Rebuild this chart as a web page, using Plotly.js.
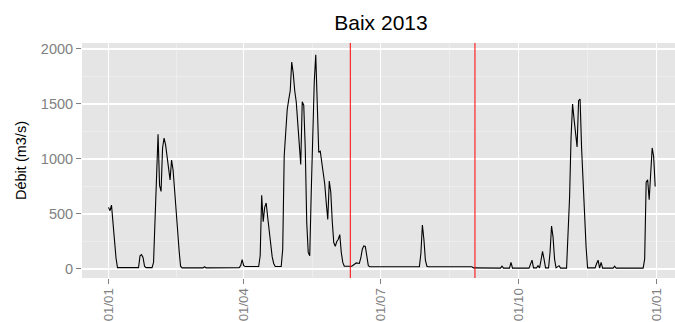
<!DOCTYPE html>
<html>
<head>
<meta charset="utf-8">
<script src="https://cdn.plot.ly/plotly-3.0.1.min.js"></script>
<style>html,body{margin:0;padding:0;background:#fff;}#chart{width:675px;height:322px;}</style>
</head>
<body>
<div id="chart"></div>
<script>
// Daily discharge readings (m3/s), Baix 2013
const dates = [
 '2013-01-01','2013-01-02','2013-01-03','2013-01-04','2013-01-05','2013-01-06','2013-01-07',
 '2013-01-21','2013-01-22','2013-01-23','2013-01-24','2013-01-25','2013-01-26',
 '2013-01-30','2013-01-31','2013-02-01','2013-02-02','2013-02-03','2013-02-04','2013-02-05',
 '2013-02-06','2013-02-07','2013-02-08','2013-02-09','2013-02-10','2013-02-11','2013-02-12',
 '2013-02-13','2013-02-14','2013-02-15','2013-02-16','2013-02-17','2013-02-18','2013-02-19',
 '2013-03-05','2013-03-06','2013-03-07',
 '2013-03-29','2013-03-30','2013-03-31','2013-04-01','2013-04-02',
 '2013-04-11','2013-04-12','2013-04-13','2013-04-14','2013-04-15','2013-04-16','2013-04-17',
 '2013-04-18','2013-04-19','2013-04-20','2013-04-21','2013-04-22',
 '2013-04-26','2013-04-27','2013-04-28','2013-04-29','2013-04-30','2013-05-01','2013-05-02',
 '2013-05-03','2013-05-04','2013-05-05','2013-05-06','2013-05-07','2013-05-08','2013-05-09',
 '2013-05-10','2013-05-11','2013-05-12','2013-05-13','2013-05-14','2013-05-15','2013-05-16',
 '2013-05-17','2013-05-18','2013-05-19','2013-05-20','2013-05-21','2013-05-22','2013-05-23',
 '2013-05-24','2013-05-25','2013-05-26','2013-05-27','2013-05-28','2013-05-29','2013-05-30',
 '2013-05-31','2013-06-01','2013-06-02','2013-06-03','2013-06-04','2013-06-05','2013-06-06',
 '2013-06-07','2013-06-11','2013-06-12','2013-06-14','2013-06-15','2013-06-17','2013-06-18',
 '2013-06-19','2013-06-20','2013-06-21','2013-06-22','2013-06-23','2013-06-24',
 '2013-07-27','2013-07-28','2013-07-29','2013-07-30','2013-07-31','2013-08-01','2013-08-02',
 '2013-08-31','2013-09-01',
 '2013-09-19','2013-09-20','2013-09-21','2013-09-25','2013-09-26','2013-09-27',
 '2013-10-08','2013-10-09','2013-10-10','2013-10-11','2013-10-13','2013-10-14','2013-10-15',
 '2013-10-16','2013-10-17','2013-10-18','2013-10-19','2013-10-21','2013-10-22','2013-10-23',
 '2013-10-24','2013-10-25','2013-10-26','2013-10-28','2013-10-29',
 '2013-11-02','2013-11-03','2013-11-04','2013-11-05','2013-11-06','2013-11-07','2013-11-08',
 '2013-11-09','2013-11-10','2013-11-11','2013-11-12','2013-11-13','2013-11-14','2013-11-15',
 '2013-11-16','2013-11-21','2013-11-22','2013-11-23','2013-11-24','2013-11-25','2013-11-26',
 '2013-12-03','2013-12-04','2013-12-05',
 '2013-12-23','2013-12-24','2013-12-25','2013-12-26','2013-12-27','2013-12-28','2013-12-29',
 '2013-12-30','2013-12-31'
];
const debit = [
 560,530,580,420,250,100,12,
 12,120,130,105,25,12,
 12,60,420,880,1225,760,705,
 1100,1190,1130,1010,880,810,990,
 900,720,520,340,170,25,10,
 10,20,10,
 12,30,85,30,22,
 22,120,670,430,560,600,470,
 330,200,110,50,22,
 22,180,1030,1280,1450,1540,1620,
 1880,1780,1620,1520,1330,1150,950,
 1520,1490,1100,420,150,120,700,
 1350,1700,1948,1400,1060,1070,980,
 870,770,600,450,800,700,430,
 240,205,250,270,312,150,60,
 25,20,25,45,55,50,100,
 180,210,205,115,30,20,
 20,140,400,270,80,25,20,
 20,10,
 8,25,8,8,60,8,
 8,50,80,10,10,30,10,
 80,160,90,10,10,150,390,
 290,90,10,30,8,
 8,270,650,1200,1500,1360,1200,
 1110,1530,1545,1100,750,470,200,
 10,10,50,80,8,60,8,
 8,25,8,
 8,90,790,810,630,850,1100,
 1020,750
];
const markerDates = ['2013-06-11', '2013-09-02'];
const xTickVals = ['2013-01-01','2013-04-01','2013-07-01','2013-10-01','2014-01-01'];
const xTickText = ['01/01','01/04','01/07','01/10','01/01'];
const xMinorVals = ['2013-02-15 12:00','2013-05-16 12:00','2013-08-16','2013-11-16'];
const yTickVals = [0, 500, 1000, 1500, 2000];
const yMinorVals = [250, 750, 1250, 1750];
const chartTitle = 'Baix 2013';
const yTitle = 'Débit (m3/s)';

const FONT = '"Liberation Sans", Arial, sans-serif';
const trace = {
  x: dates, y: debit, type: 'scatter', mode: 'lines',
  line: {color: '#000000', width: 1.1}, hoverinfo: 'skip', showlegend: false
};
const shapes = markerDates.map(d => ({
  type: 'line', xref: 'x', yref: 'paper', x0: d, x1: d, y0: 0, y1: 1,
  line: {color: '#FF0000', width: 1}, layer: 'above'
}));
const layout = {
  width: 675, height: 322,
  margin: {l: 82, r: 0, t: 43, b: 44, pad: 0},
  paper_bgcolor: '#FFFFFF', plot_bgcolor: '#E5E5E5',
  font: {family: FONT},
  title: {text: chartTitle, font: {family: FONT, size: 21, color: '#000'},
          xref: 'container', x: 0.5644, xanchor: 'center',
          yref: 'container', y: 0.9286, yanchor: 'middle'},
  xaxis: {
    type: 'date', range: ['2012-12-14 08:38', '2014-01-13 04:48'],
    tickmode: 'array', tickvals: xTickVals, ticktext: xTickText, tickangle: -90,
    ticks: 'outside', ticklen: 5, tickwidth: 1, tickcolor: '#7F7F7F',
    tickfont: {family: FONT, size: 13.2, color: '#7F7F7F'},
    ticklabelstandoff: -1,
    showgrid: true, gridcolor: '#FFFFFF', gridwidth: 1.2,
    minor: {tickmode: 'array', tickvals: xMinorVals, showgrid: true, gridcolor: '#F2F2F2', gridwidth: 0.6, ticks: ''},
    zeroline: false, showline: false, fixedrange: true
  },
  yaxis: {
    range: [-82, 2054],
    tickmode: 'array', tickvals: yTickVals,
    ticks: 'outside', ticklen: 5, tickwidth: 1, tickcolor: '#7F7F7F',
    tickfont: {family: FONT, size: 14.5, color: '#7F7F7F'},
    showgrid: true, gridcolor: '#FFFFFF', gridwidth: 1.2,
    minor: {tickmode: 'array', tickvals: yMinorVals, showgrid: true, gridcolor: '#F2F2F2', gridwidth: 0.6, ticks: ''},
    zeroline: false, showline: false, fixedrange: true,
    title: {text: yTitle, font: {family: FONT, size: 14.5, color: '#000'}, standoff: 10}
  },
  shapes: shapes
};
Plotly.newPlot('chart', [trace], layout, {displayModeBar: false, staticPlot: true});
</script>
</body>
</html>
